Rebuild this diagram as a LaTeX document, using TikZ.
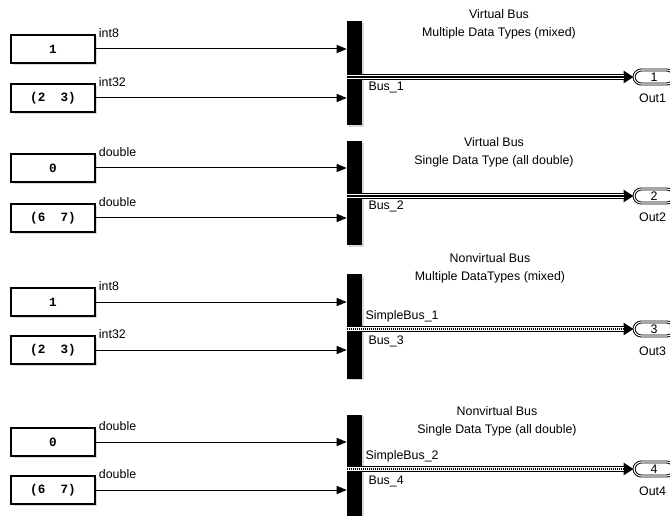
\documentclass[tikz,border=0pt]{standalone}
\usepackage{fontspec}
\setmainfont{Liberation Sans}
\setmonofont{Liberation Mono}
\usepackage{tikz}
\usetikzlibrary{positioning, calc, arrows.meta, shadows}

\begin{document}
\begin{tikzpicture}[
  x=0.75pt, y=-0.75pt,
  every node/.style={font=\fontsize{9.3}{13.5}\selectfont},
  const/.style={rectangle, draw, line width=1pt, fill=white, minimum width=63pt, minimum height=21pt,
    inner sep=0pt, font=\fontsize{9.5}{11}\ttfamily\bfseries,
    drop shadow={shadow xshift=1.2pt, shadow yshift=-1.2pt, opacity=0.3}},
  busbar/.style={rectangle, fill=black, minimum width=11.25pt, minimum height=78pt, inner sep=0pt,
    drop shadow={shadow xshift=1.5pt, shadow yshift=-1pt, opacity=0.3}},
  outport/.style={rectangle, draw, rounded corners=5.5pt, double, double distance=0.8pt, line width=0.7pt,
    fill=white, minimum width=30pt, minimum height=10.5pt, inner sep=0pt},
  title/.style={align=center},
  siglbl/.style={anchor=base west, inner sep=0pt},
  buslbl/.style={anchor=base west, inner sep=0pt},
  outlbl/.style={anchor=base, inner sep=0pt},
  sig/.style={line width=0.75pt, -{Triangle[length=7.5pt,width=6pt]}},
  vbus/.style={line width=5pt, -{Triangle[length=7.5pt,width=9pt]},
    postaction={draw, -, white, line width=2.8pt, shorten >=7.5pt},
    postaction={draw, -, black, line width=0.8pt, shorten >=7.5pt}},
  nvbus/.style={line width=5pt, -{Triangle[length=7.5pt,width=9pt]},
    postaction={draw, -, white, line width=2.8pt, shorten >=7.5pt},
    postaction={draw, -, black, line width=0.8pt, dash pattern=on 0.75pt off 0.75pt, shorten >=7.5pt}}
]
\useasboundingbox (0,0) rectangle (670,516);

% Virtual bus, mixed types
\node[title] (t1) at (499,24.5) {Virtual Bus\\Multiple Data Types (mixed)};
\node[const] (c1a) at (53,49) {1};
\node[const] (c1b) at (53,98) {(2\ \ 3)};
\node[busbar] (bc1) at (354.5,73.5) {};
\node[outport] (out1) at (654,77) {\fontsize{9.3}{11}\rmfamily 1};
\node[siglbl] at ($(c1a.north east)+(3,3)$) {int8};
\node[siglbl] at ($(c1b.north east)+(3,3)$) {int32};
\draw[sig] (c1a.east) -- (c1a.east -| bc1.west);
\draw[sig] (c1b.east) -- (c1b.east -| bc1.west);
\draw[vbus] (bc1.west |- out1.west) -- (out1.west);
\node[buslbl] at ($(bc1.east |- out1.west)+(6,14)$) {Bus\_1};
\node[outlbl] at ($(out1.west)+(19,26)$) {Out1};

% Virtual bus, all double
\node[title] (t2) at (494,152) {Virtual Bus\\Single Data Type (all double)};
\node[const] (c2a) at (53,168) {0};
\node[const] (c2b) at (53,218) {(6\ \ 7)};
\node[busbar] (bc2) at (354.5,193.5) {};
\node[outport] (out2) at (654,196) {\fontsize{9.3}{11}\rmfamily 2};
\node[siglbl] at ($(c2a.north east)+(3,3)$) {double};
\node[siglbl] at ($(c2b.north east)+(3,3)$) {double};
\draw[sig] (c2a.east) -- (c2a.east -| bc2.west);
\draw[sig] (c2b.east) -- (c2b.east -| bc2.west);
\draw[vbus] (bc2.west |- out2.west) -- (out2.west);
\node[buslbl] at ($(bc2.east |- out2.west)+(6,14)$) {Bus\_2};
\node[outlbl] at ($(out2.west)+(19,26)$) {Out2};

% Nonvirtual bus, mixed types
\node[title] (t3) at (490,268) {Nonvirtual Bus\\Multiple DataTypes (mixed)};
\node[const] (c3a) at (53,302) {1};
\node[const] (c3b) at (53,350) {(2\ \ 3)};
\node[busbar] (bc3) at (354.5,326.5) {};
\node[outport] (out3) at (654,329) {\fontsize{9.3}{11}\rmfamily 3};
\node[siglbl] at ($(c3a.north east)+(3,3)$) {int8};
\node[siglbl] at ($(c3b.north east)+(3,3)$) {int32};
\draw[sig] (c3a.east) -- (c3a.east -| bc3.west);
\draw[sig] (c3b.east) -- (c3b.east -| bc3.west);
\draw[nvbus] (bc3.west |- out3.west) -- (out3.west);
\node[buslbl] at ($(bc3.east |- out3.west)+(3,-10)$) {SimpleBus\_1};
\node[buslbl] at ($(bc3.east |- out3.west)+(6,15)$) {Bus\_3};
\node[outlbl] at ($(out3.west)+(19,26)$) {Out3};

% Nonvirtual bus, all double
\node[title] (t4) at (497,421.5) {Nonvirtual Bus\\Single Data Type (all double)};
\node[const] (c4a) at (53,442) {0};
\node[const] (c4b) at (53,490) {(6\ \ 7)};
\node[busbar] (bc4) at (354.5,467) {};
\node[outport] (out4) at (654,469) {\fontsize{9.3}{11}\rmfamily 4};
\node[siglbl] at ($(c4a.north east)+(3,3)$) {double};
\node[siglbl] at ($(c4b.north east)+(3,3)$) {double};
\draw[sig] (c4a.east) -- (c4a.east -| bc4.west);
\draw[sig] (c4b.east) -- (c4b.east -| bc4.west);
\draw[nvbus] (bc4.west |- out4.west) -- (out4.west);
\node[buslbl] at ($(bc4.east |- out4.west)+(3,-10)$) {SimpleBus\_2};
\node[buslbl] at ($(bc4.east |- out4.west)+(6,15)$) {Bus\_4};
\node[outlbl] at ($(out4.west)+(19,26)$) {Out4};

\end{tikzpicture}
\end{document}
